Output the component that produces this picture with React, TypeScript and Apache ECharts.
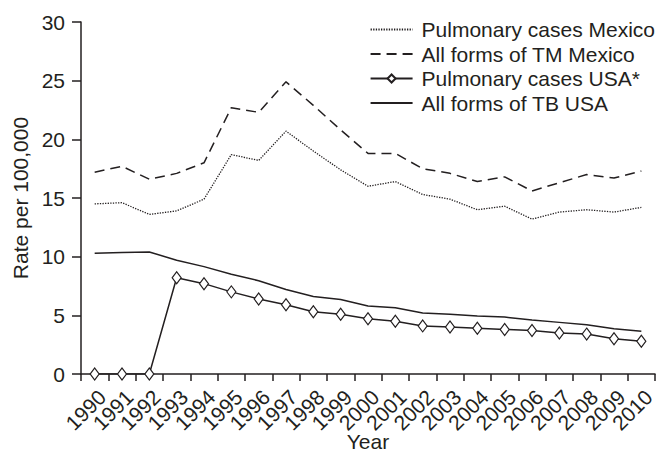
import React, { useEffect, useRef } from "react";
import * as echarts from "echarts";

const years = ["1990","1991","1992","1993","1994","1995","1996","1997","1998","1999","2000","2001","2002","2003","2004","2005","2006","2007","2008","2009","2010"];
const pulmonaryMexico = [14.5, 14.6, 13.6, 13.9, 14.9, 18.7, 18.2, 20.7, 19.0, 17.4, 16.0, 16.4, 15.3, 14.9, 14.0, 14.3, 13.2, 13.8, 14.0, 13.8, 14.2];
const allFormsMexico = [17.2, 17.7, 16.6, 17.1, 18.0, 22.7, 22.3, 24.9, 22.9, 20.8, 18.8, 18.8, 17.5, 17.1, 16.4, 16.8, 15.6, 16.3, 17.0, 16.7, 17.3];
const pulmonaryUSA = [0, 0, 0, 8.2, 7.7, 7.0, 6.4, 5.9, 5.3, 5.1, 4.7, 4.5, 4.1, 4.0, 3.9, 3.8, 3.7, 3.5, 3.4, 3.0, 2.8];
const allFormsUSA = [10.3, 10.35, 10.4, 9.7, 9.15, 8.5, 7.95, 7.2, 6.6, 6.35, 5.8, 5.65, 5.2, 5.1, 4.95, 4.85, 4.6, 4.4, 4.2, 3.85, 3.65];
const seriesNames = ["Pulmonary cases Mexico", "All forms of TM Mexico", "Pulmonary cases USA*", "All forms of TB USA"];

const INK = "#231f20";
const FONT = "Liberation Sans";

export default function App() {
  const ref = useRef<HTMLDivElement>(null);
  useEffect(() => {
    if (!ref.current) return;
    const chart = echarts.init(ref.current, undefined, { renderer: "svg" });
    chart.setOption({
      animation: false,
      backgroundColor: "#ffffff",
      textStyle: { fontFamily: FONT, color: INK },
      grid: { left: 81, right: 4, top: 22, bottom: 78, containLabel: false, outerBoundsMode: "none" },
      legend: {
        orient: "vertical",
        right: 4,
        top: 19,
        padding: 0,
        itemWidth: 42,
        itemHeight: 10,
        itemGap: 3.5,
        data: seriesNames.map((n, i) =>
          i === 2 ? { name: n } : { name: n, itemStyle: { opacity: 0 } }
        ),
        textStyle: { fontSize: 21, color: INK, fontFamily: FONT, lineHeight: 21, padding: [0, 0, 0, 4] },
      },
      xAxis: {
        type: "category",
        data: years,
        boundaryGap: true,
        name: "Year",
        nameLocation: "middle",
        nameGap: 57,
        nameMoveOverlap: false,
        nameTextStyle: { fontSize: 21, color: INK, fontFamily: FONT, verticalAlign: "top" },
        axisLine: { lineStyle: { color: INK, width: 1.5 } },
        axisTick: { show: true, length: 7, inside: false, alignWithLabel: false, interval: 0, lineStyle: { color: INK, width: 1.5 } },
        axisLabel: { rotate: 45, interval: 0, margin: 12, verticalAlign: "top", fontSize: 21, color: INK, fontFamily: FONT },
        splitLine: { show: false },
      },
      yAxis: {
        type: "value",
        min: 0,
        max: 30,
        interval: 5,
        name: "Rate per 100,000",
        nameLocation: "middle",
        nameGap: 50,
        nameMoveOverlap: false,
        nameTextStyle: { fontSize: 21, color: INK, fontFamily: FONT },
        axisLine: { show: true, lineStyle: { color: INK, width: 1.5 } },
        axisTick: { show: true, length: 9, lineStyle: { color: INK, width: 1.5 } },
        axisLabel: { margin: 16, fontSize: 21, color: INK, fontFamily: FONT },
        splitLine: { show: false },
      },
      series: [
        {
          name: seriesNames[0],
          type: "line",
          data: pulmonaryMexico,
          symbol: "none",
          lineStyle: { color: INK, width: 1.3, type: [1.3, 1.3] },
          itemStyle: { color: INK },
        },
        {
          name: seriesNames[1],
          type: "line",
          data: allFormsMexico,
          symbol: "none",
          lineStyle: { color: INK, width: 1.5, type: [10, 6] },
          itemStyle: { color: INK },
        },
        {
          name: seriesNames[2],
          type: "line",
          data: pulmonaryUSA,
          symbol: "diamond",
          symbolSize: [9, 12],
          showAllSymbol: true,
          lineStyle: { color: INK, width: 1.5 },
          itemStyle: { color: "#ffffff", borderColor: INK, borderWidth: 1.2 },
          z: 5,
        },
        {
          name: seriesNames[3],
          type: "line",
          data: allFormsUSA,
          symbol: "none",
          lineStyle: { color: INK, width: 1.5 },
          itemStyle: { color: INK },
        },
      ],
    });
    return () => chart.dispose();
  }, []);
  return (
    <div
      ref={ref}
      style={{ position: "fixed", left: 0, top: 0, width: 659, height: 452, background: "#fff" }}
    />
  );
}
